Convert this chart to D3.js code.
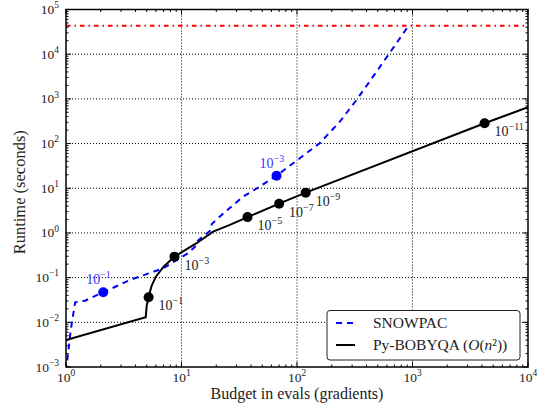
<!DOCTYPE html>
<html>
<head>
<meta charset="utf-8">
<title>Runtime vs budget</title>
<script src="https://d3js.org/d3.v7.min.js"></script>
<style>
body { margin: 0; background: #fff; }
svg { display: block; }
text { font-family: "Liberation Serif", "Times New Roman", serif; fill: #222; }
.grid line { stroke: #000; stroke-width: 1; stroke-dasharray: 1,2; }
.tick-mark { stroke: #000; stroke-width: 1; }
</style>
</head>
<body>
<svg width="539" height="405"></svg>
<script>
// SNOWPAC curve (budget in evals, runtime in seconds)
var snowpacEvals   = [1.0, 1.1, 1.2, 1.46, 2.1, 3.6, 6.95, 11.4, 13.1, 13.5, 17.6, 18.3, 23.3, 34.2, 47.6, 66.5, 92.5, 157, 235, 327, 455, 620, 909, 946];
var snowpacRuntime = [0.0008, 0.0068, 0.028, 0.0305, 0.047, 0.089, 0.162, 0.351, 0.494, 0.638, 1.11, 1.59, 2.80, 6.49, 10.9, 19.1, 36.2, 102, 309, 944, 3140, 9800, 40600, 43200];
var snowpacDotEvals   = [2.1, 66.5];
var snowpacDotRuntime = [0.047, 19.1];
var snowpacDotTol     = ["-1", "-3"];

// Py-BOBYQA curve
var bobyqaEvals   = [1.0, 4.9, 5.0, 5.19, 5.5, 6.0, 7.0, 8.7, 13.5, 18.8, 26.2, 37.3, 70, 119, 4210, 10000];
var bobyqaRuntime = [0.0040, 0.0130, 0.0240, 0.0365, 0.065, 0.105, 0.176, 0.295, 0.589, 1.07, 1.51, 2.26, 4.52, 7.97, 284, 649];
var bobyqaDotEvals   = [5.19, 8.7, 37.3, 70, 119, 4210];
var bobyqaDotRuntime = [0.0365, 0.295, 2.26, 4.52, 7.97, 284];
var bobyqaDotTol     = ["-1", "-3", "-5", "-7", "-9", "-11"];

// wall-clock limit (12 hours)
var timeLimit = 43200;

var xTickExps = [0, 1, 2, 3, 4];
var yTickExps = [-3, -2, -1, 0, 1, 2, 3, 4, 5];

var svg = d3.select("svg"),
    margin = {top: 9.5, right: 11, bottom: 38, left: 66},
    width = +svg.attr("width") - margin.left - margin.right,
    height = +svg.attr("height") - margin.top - margin.bottom,
    g = svg.append("g").attr("transform", "translate(" + margin.left + "," + margin.top + ")");

var x = d3.scaleLog().domain([1, 1e4]).range([0, width]);
var y = d3.scaleLog().domain([1e-3, 1e5]).range([height, 0]);

svg.append("defs").append("clipPath").attr("id", "plot-clip")
  .append("rect").attr("width", width).attr("height", height);

// grid
var grid = g.append("g").attr("class", "grid");
grid.selectAll(".gx").data(xTickExps.slice(1, -1)).enter().append("line")
    .attr("x1", function(d) { return x(Math.pow(10, d)); })
    .attr("x2", function(d) { return x(Math.pow(10, d)); })
    .attr("y1", 0).attr("y2", height);
grid.selectAll(".gy").data(yTickExps.slice(1, -1)).enter().append("line")
    .attr("y1", function(d) { return y(Math.pow(10, d)); })
    .attr("y2", function(d) { return y(Math.pow(10, d)); })
    .attr("x1", 0).attr("x2", width);

// ticks on all four sides, pointing in
function minors(lo, hi) {
  var out = [];
  for (var e = lo; e < hi; e++) for (var k = 2; k <= 9; k++) out.push(k * Math.pow(10, e));
  return out;
}
var ticks = g.append("g");
var majLen = 5, minLen = 2.5;
xTickExps.forEach(function(e) {
  var px = x(Math.pow(10, e));
  ticks.append("line").attr("class", "tick-mark").attr("x1", px).attr("x2", px).attr("y1", height).attr("y2", height - majLen);
  ticks.append("line").attr("class", "tick-mark").attr("x1", px).attr("x2", px).attr("y1", 0).attr("y2", majLen);
});
minors(0, 4).forEach(function(v) {
  var px = x(v);
  ticks.append("line").attr("class", "tick-mark").attr("x1", px).attr("x2", px).attr("y1", height).attr("y2", height - minLen);
  ticks.append("line").attr("class", "tick-mark").attr("x1", px).attr("x2", px).attr("y1", 0).attr("y2", minLen);
});
yTickExps.forEach(function(e) {
  var py = y(Math.pow(10, e));
  ticks.append("line").attr("class", "tick-mark").attr("y1", py).attr("y2", py).attr("x1", 0).attr("x2", majLen);
  ticks.append("line").attr("class", "tick-mark").attr("y1", py).attr("y2", py).attr("x1", width).attr("x2", width - majLen);
});
minors(-3, 5).forEach(function(v) {
  var py = y(v);
  ticks.append("line").attr("class", "tick-mark").attr("y1", py).attr("y2", py).attr("x1", 0).attr("x2", minLen);
  ticks.append("line").attr("class", "tick-mark").attr("y1", py).attr("y2", py).attr("x1", width).attr("x2", width - minLen);
});

// "10^e" label helper
function powLabel(sel, exp, base, sup) {
  sel.append("tspan").style("font-size", base + "px").text("10");
  sel.append("tspan").style("font-size", sup + "px").attr("dy", -base * 0.42)
     .text(String(exp).replace("-", "\u2212"));
}

xTickExps.forEach(function(e) {
  var t = g.append("text")
      .attr("x", x(Math.pow(10, e)))
      .attr("y", height + 15)
      .attr("text-anchor", "middle");
  powLabel(t, e, 13.5, 9.5);
});
yTickExps.forEach(function(e) {
  var t = g.append("text")
      .attr("x", -7)
      .attr("y", y(Math.pow(10, e)) + 4.5)
      .attr("text-anchor", "end");
  powLabel(t, e, 13.5, 9.5);
});

// axis titles
svg.append("text")
    .attr("x", margin.left + width / 2)
    .attr("y", 399)
    .attr("text-anchor", "middle")
    .style("font-size", "16px")
    .text("Budget in evals (gradients)");
svg.append("text")
    .attr("transform", "translate(25," + (margin.top + height / 2 + 4) + ") rotate(-90)")
    .attr("text-anchor", "middle")
    .style("font-size", "16.5px")
    .text("Runtime (seconds)");

// curves
var plot = g.append("g").attr("clip-path", "url(#plot-clip)");
var line = d3.line()
    .x(function(d) { return x(d[0]); })
    .y(function(d) { return y(d[1]); });

plot.append("line")
    .attr("x1", 0).attr("x2", width)
    .attr("y1", y(timeLimit)).attr("y2", y(timeLimit))
    .attr("stroke", "#ff0000").attr("stroke-width", 2)
    .attr("stroke-dasharray", "4.5,4,1.5,4");

plot.append("path")
    .datum(d3.zip(snowpacEvals, snowpacRuntime))
    .attr("fill", "none").attr("stroke", "#0000ff").attr("stroke-width", 2)
    .attr("stroke-dasharray", "6,5")
    .attr("d", line);

plot.append("path")
    .datum(d3.zip(bobyqaEvals, bobyqaRuntime))
    .attr("fill", "none").attr("stroke", "#000").attr("stroke-width", 2)
    .attr("d", line);

// markers and tolerance labels
var bDots = d3.zip(snowpacDotEvals, snowpacDotRuntime, snowpacDotTol);
plot.selectAll(".sdot").data(bDots).enter().append("circle")
    .attr("cx", function(d) { return x(d[0]); })
    .attr("cy", function(d) { return y(d[1]); })
    .attr("r", 5).attr("fill", "#0000ff");
bDots.forEach(function(d) {
  var t = plot.append("text")
      .attr("x", x(d[0]) - 17)
      .attr("y", y(d[1]) - 8)
      .style("fill", "#3535ff");
  powLabel(t, d[2], 14, 10);
});

var kDots = d3.zip(bobyqaDotEvals, bobyqaDotRuntime, bobyqaDotTol);
plot.selectAll(".kdot").data(kDots).enter().append("circle")
    .attr("cx", function(d) { return x(d[0]); })
    .attr("cy", function(d) { return y(d[1]); })
    .attr("r", 5).attr("fill", "#000");
kDots.forEach(function(d) {
  var t = plot.append("text")
      .attr("x", x(d[0]) + 10)
      .attr("y", y(d[1]) + 13);
  powLabel(t, d[2], 14, 10);
});

// frame
g.append("rect")
    .attr("width", width).attr("height", height)
    .attr("fill", "none").attr("stroke", "#000").attr("stroke-width", 1.5);

// legend
var legW = 193, legH = 49.5;
var legend = g.append("g")
    .attr("transform", "translate(" + (width - 8 - legW) + "," + (height - 7 - legH) + ")");
legend.append("rect")
    .attr("width", legW).attr("height", legH).attr("rx", 3)
    .attr("fill", "#fff").attr("stroke", "#222").attr("stroke-width", 1);
legend.append("line")
    .attr("x1", 9).attr("x2", 28).attr("y1", 12.5).attr("y2", 12.5)
    .attr("stroke", "#0000ff").attr("stroke-width", 2).attr("stroke-dasharray", "6,5");
legend.append("text").attr("x", 46).attr("y", 17.5).style("font-size", "15.5px").text("SNOWPAC");
legend.append("line")
    .attr("x1", 9).attr("x2", 28).attr("y1", 34.5).attr("y2", 34.5)
    .attr("stroke", "#000").attr("stroke-width", 2);
var lt = legend.append("text").attr("x", 46).attr("y", 39.5).style("font-size", "15.5px");
lt.append("tspan").text("Py-BOBYQA (");
lt.append("tspan").style("font-style", "italic").text("O");
lt.append("tspan").text("(");
lt.append("tspan").style("font-style", "italic").text("n");
lt.append("tspan").text("\u00b2))");
</script>
</body>
</html>
